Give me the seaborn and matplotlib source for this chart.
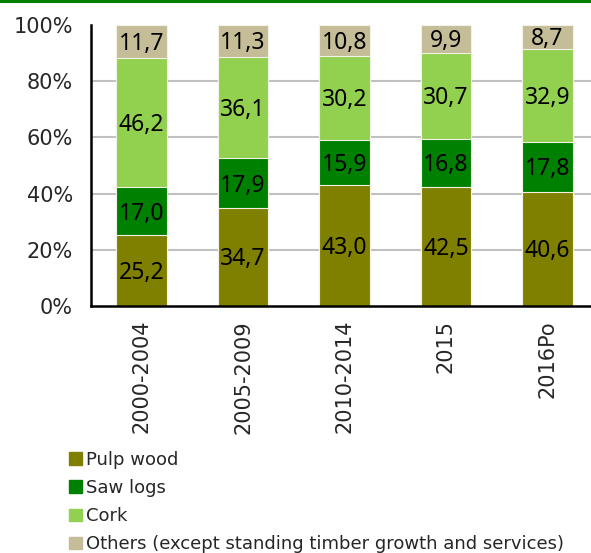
import matplotlib
matplotlib.use("Agg")
import matplotlib.pyplot as plt
import matplotlib.patches as mpatches
from matplotlib.lines import Line2D
import numpy as np
import pandas as pd
import seaborn as sns

periods = ["2000-2004", "2005-2009", "2010-2014", "2015", "2016Po"]
pulp_wood = [25.2, 34.7, 43.0, 42.5, 40.6]
saw_logs = [17.0, 17.9, 15.9, 16.8, 17.8]
cork = [46.2, 36.1, 30.2, 30.7, 32.9]
others = [11.7, 11.3, 10.8, 9.9, 8.7]

series_names = ["Pulp wood", "Saw logs", "Cork",
                "Others (except standing timber growth and services)"]
series_values = [pulp_wood, saw_logs, cork, others]
series_colors = ["#808000", "#008000", "#92D050", "#C4BD97"]

sns.set_style("white")
plt.rcParams["font.family"] = ["DejaVu Sans"]

W, H = 591, 553
fig = plt.figure(figsize=(W / 100, H / 100), dpi=100)
left_px, right_px, bottom_px, top_px = 91, 598, 306, 25
ax = fig.add_axes([left_px / W, 1 - bottom_px / H,
                   (right_px - left_px) / W, (bottom_px - top_px) / H])

# stacked bars: draw cumulative totals from the top segment down
df = pd.DataFrame({"period": periods})
cum = np.zeros(len(periods))
cums = []
for vals in series_values:
    cum = cum + np.array(vals)
    cums.append(cum.copy())
for i in range(len(series_values) - 1, -1, -1):
    df["total"] = np.minimum(cums[i], 100.0)
    sns.barplot(data=df, x="period", y="total", color=series_colors[i],
                width=0.5, saturation=1, edgecolor="#f2f2e6", linewidth=0.8,
                ax=ax, zorder=3)

# segment value labels
for i, vals in enumerate(series_values):
    base = cums[i] - np.array(vals)
    for j, v in enumerate(vals):
        mid = base[j] + min(v, 100 - base[j]) / 2
        ax.text(j, mid - 0.8, f"{v:.1f}".replace(".", ","), ha="center",
                va="center", fontsize=16.5, family=["Noto Sans"],
                color="black", zorder=5)

for y in [20, 40, 60, 80]:
    ax.axhline(y, color="#c0c0c0", lw=1.5, zorder=1)

ax.set_ylim(0, 100)
ax.set_xlim(-0.5, 4.5)
ax.set_yticks([0, 20, 40, 60, 80, 100])
ax.set_yticklabels([f"{t}%" for t in [0, 20, 40, 60, 80, 100]], fontsize=15)
ax.set_xticks(range(len(periods)))
ax.set_xticklabels(periods, rotation=90, fontsize=15)
ax.tick_params(axis="x", length=0, pad=10)
ax.set_xticks(np.arange(-0.5, 5, 1), minor=True)
ax.tick_params(axis="x", which="minor", length=7, width=1.8, direction="out",
               color="black")
ax.tick_params(axis="y", length=7, width=1.8, direction="out", color="black",
               pad=6)
ax.set_xlabel("")
ax.set_ylabel("")
for s in ["top", "right"]:
    ax.spines[s].set_visible(False)
for s in ["left", "bottom"]:
    ax.spines[s].set_color("black")
    ax.spines[s].set_linewidth(1.8)
    ax.spines[s].set_zorder(6)

handles = [mpatches.Patch(color=c, label=n)
           for c, n in zip(series_colors, series_names)]
fig.legend(handles=handles, loc="upper left",
           bbox_to_anchor=(69 / W, 1 - 451 / H), frameon=False,
           fontsize=13, handlelength=0.7, handleheight=0.7,
           handletextpad=0.25, labelspacing=0.56, borderaxespad=0,
           borderpad=0)

fig.add_artist(Line2D([0, 1], [1 - 1.2 / H, 1 - 1.2 / H],
                      transform=fig.transFigure, color="#008000", lw=2.2))

fig.savefig("out.png", dpi=100)
